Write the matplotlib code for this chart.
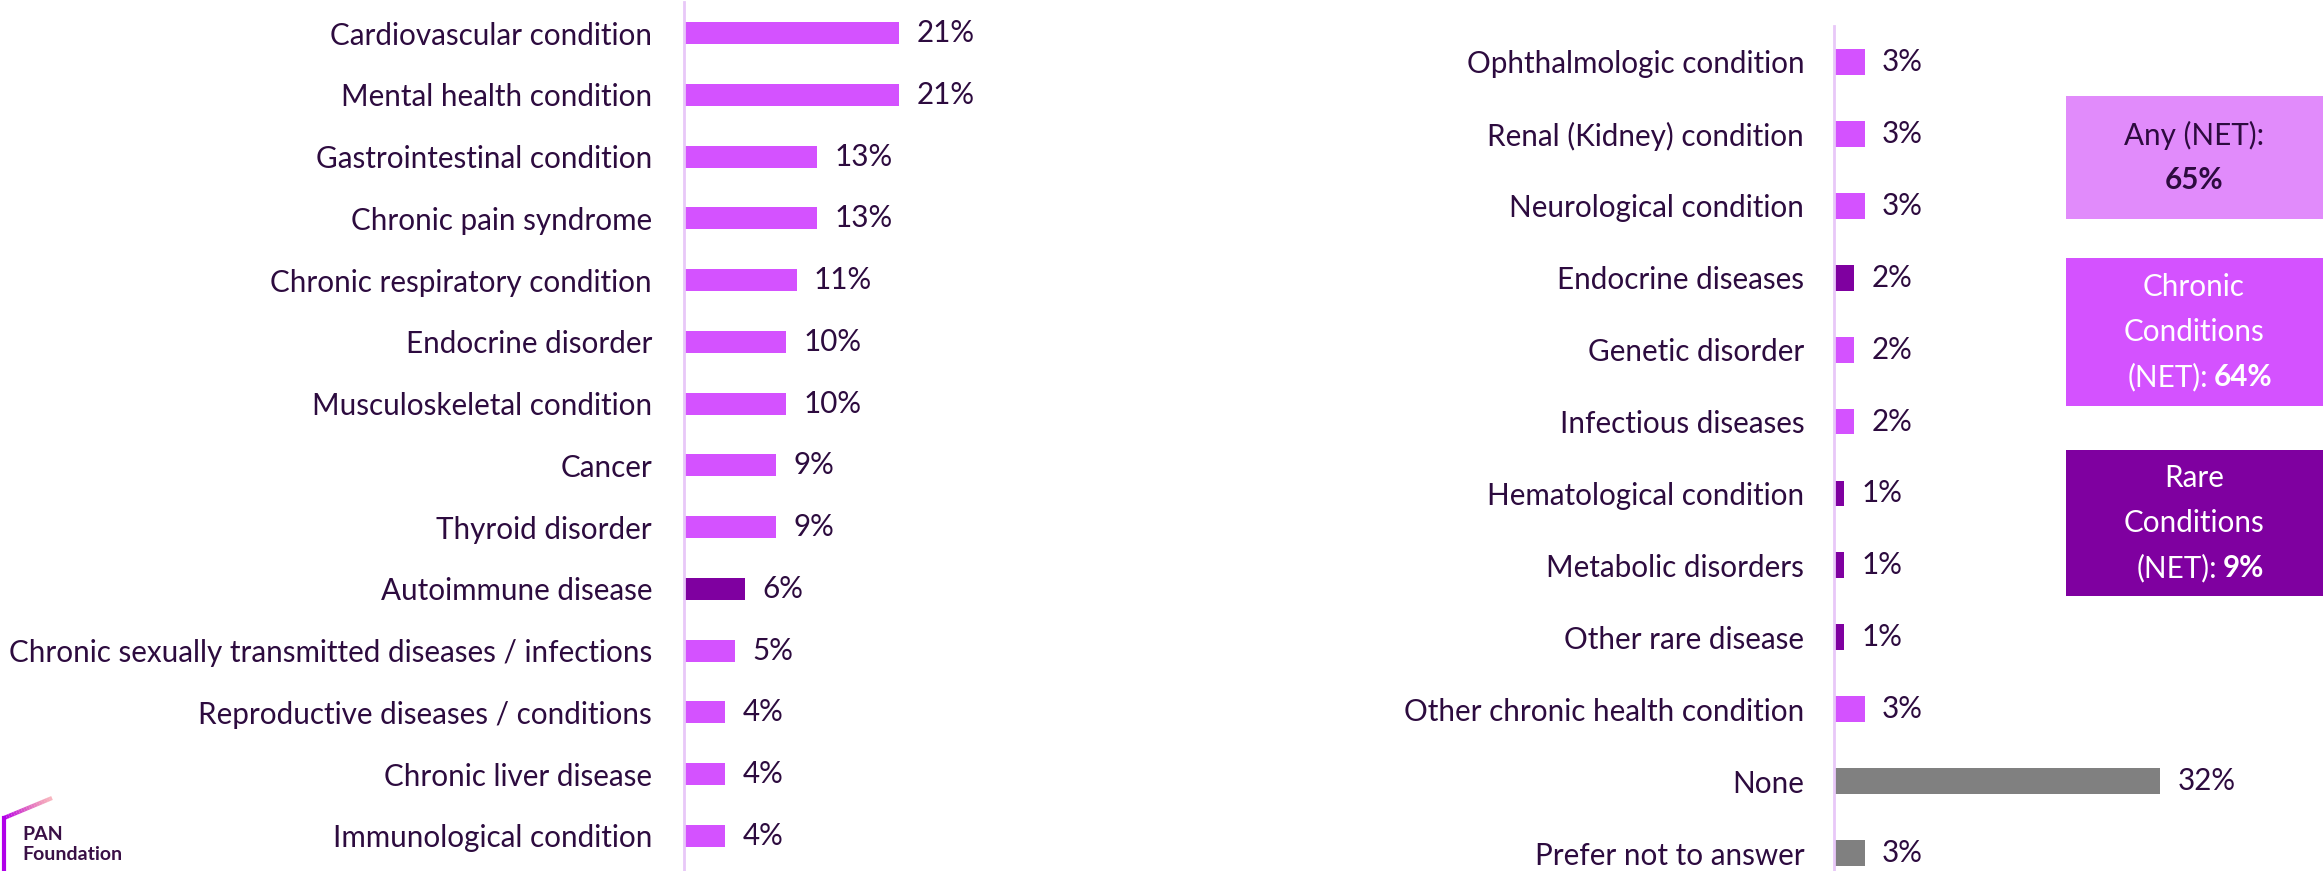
import numpy as np
import matplotlib
matplotlib.use('Agg')
import matplotlib.pyplot as plt
from matplotlib.patches import Rectangle

plt.rcParams['font.family'] = ['Lato', 'DejaVu Sans']

# ---- data ----
left_labels = [
    'Cardiovascular condition', 'Mental health condition', 'Gastrointestinal condition',
    'Chronic pain syndrome', 'Chronic respiratory condition', 'Endocrine disorder',
    'Musculoskeletal condition', 'Cancer', 'Thyroid disorder', 'Autoimmune disease',
    'Chronic sexually transmitted diseases / infections', 'Reproductive diseases / conditions',
    'Chronic liver disease', 'Immunological condition',
]
left_values = [21, 21, 13, 13, 11, 10, 10, 9, 9, 6, 5, 4, 4, 4]
left_groups = ['chronic'] * 9 + ['rare'] + ['chronic'] * 4

right_labels = [
    'Ophthalmologic condition', 'Renal (Kidney) condition', 'Neurological condition',
    'Endocrine diseases', 'Genetic disorder', 'Infectious diseases',
    'Hematological condition', 'Metabolic disorders', 'Other rare disease',
    'Other chronic health condition', 'None', 'Prefer not to answer',
]
right_values = [3, 3, 3, 2, 2, 2, 1, 1, 1, 3, 32, 3]
right_groups = ['chronic', 'chronic', 'chronic', 'rare', 'chronic', 'chronic',
                'rare', 'rare', 'rare', 'chronic', 'none', 'none']

net_any = 65
net_chronic = 64
net_rare = 9

COLORS = {'chronic': '#D452FF', 'rare': '#7F00A0', 'none': '#808080'}
TXT = '#2D0B3F'
AXLINE = '#E8C8F8'
FS = 21.3

W, H = 2323, 871
fig = plt.figure(figsize=(W / 100, H / 100), dpi=100)


def fx(px):
    return px / W


def fy(py):
    return 1 - py / H


def bar_panel(rect, labels, values, groups, ylim, xmax, height, pad):
    ax = fig.add_axes(rect)
    y = np.arange(len(labels))
    ax.barh(y, values, height=height, color=[COLORS[g] for g in groups])
    for yi, v in zip(y, values):
        ax.annotate(f'{v}%', (v, yi), xytext=(12.5, 0), textcoords='offset points',
                    ha='left', va='center', fontsize=FS, color=TXT)
    ax.set_yticks(y)
    ax.set_yticklabels(labels, fontsize=FS, color=TXT)
    ax.tick_params(axis='y', length=0, pad=pad)
    ax.set_xticks([])
    ax.set_xlim(0, xmax)
    ax.set_ylim(ylim)
    for s in ['top', 'right', 'bottom']:
        ax.spines[s].set_visible(False)
    ax.spines['left'].set_color(AXLINE)
    ax.spines['left'].set_linewidth(2)
    ax.set_facecolor('none')
    return ax


# left panel: axis at x=684, top at y=2
bar_panel([fx(684), 0, fx(1300) - fx(684), fy(2)], left_labels, left_values, left_groups,
          (13.567, -0.502), (1300 - 684) / 10.24, 0.357, 23)

# right panel: axis at x=1834, top at y=26
bar_panel([fx(1834), 0, fx(2323) - fx(1834), fy(26)], right_labels, right_values, right_groups,
          (11.25, -0.50), (2323 - 1834) / 10.2, 0.36, 21.5)

# NET boxes
boxes = [
    (96, 219, '#E18BFB', TXT, ['Any (NET):'], f'{net_any}%', None),
    (258, 406, '#D452FF', 'white', ['Chronic', 'Conditions'], f'{net_chronic}%', 2211),
    (450, 596, '#7F00A0', 'white', ['Rare', 'Conditions'], f'{net_rare}%', 2220),
]
cx = 2194
step = 45
for top, bot, fc, tc, lines, val, split in boxes:
    fig.add_artist(Rectangle((fx(2066), fy(bot)), fx(2323) - fx(2066), (bot - top) / H,
                             transform=fig.transFigure, facecolor=fc, edgecolor='none'))
    n = len(lines) + 1
    y0 = (top + bot) / 2 - step * (n - 1) / 2
    for i, ln in enumerate(lines):
        fig.text(fx(cx), fy(y0 + i * step), ln, ha='center', va='center',
                 fontsize=FS, color=tc)
    ylast = y0 + len(lines) * step
    if split:
        fig.text(fx(split - 3), fy(ylast), '(NET):', ha='right', va='center',
                 fontsize=FS, color=tc)
        fig.text(fx(split + 3), fy(ylast), val, ha='left', va='center',
                 fontsize=FS, color=tc, fontweight='bold')
    else:
        fig.text(fx(cx), fy(ylast), val, ha='center', va='center',
                 fontsize=FS, color=tc, fontweight='bold')

# PAN Foundation logo
seg = np.linspace(0, 1, 20)
xs = 4 + seg * 48
ys = 818 - seg * 20
for i in range(len(seg) - 1):
    c = np.array([0.72, 0.0, 0.92]) * (1 - seg[i]) + np.array([0.95, 0.35, 0.40]) * seg[i]
    fig.add_artist(plt.Line2D([fx(xs[i]), fx(xs[i + 1])], [fy(ys[i]), fy(ys[i + 1])],
                              transform=fig.transFigure, color=c, lw=3,
                              alpha=1 - 0.6 * seg[i], solid_capstyle='butt'))
fig.add_artist(plt.Line2D([fx(4), fx(4)], [fy(818), 0], transform=fig.transFigure,
                          color='#B000E8', lw=3))
fig.text(fx(22), fy(826), 'PAN', ha='left', va='top', fontsize=14, fontweight='bold',
         color='#3A1046')
fig.text(fx(22), fy(846), 'Foundation', ha='left', va='top', fontsize=14, fontweight='bold',
         color='#3A1046')

fig.savefig('out.png', dpi=100, facecolor='white')
